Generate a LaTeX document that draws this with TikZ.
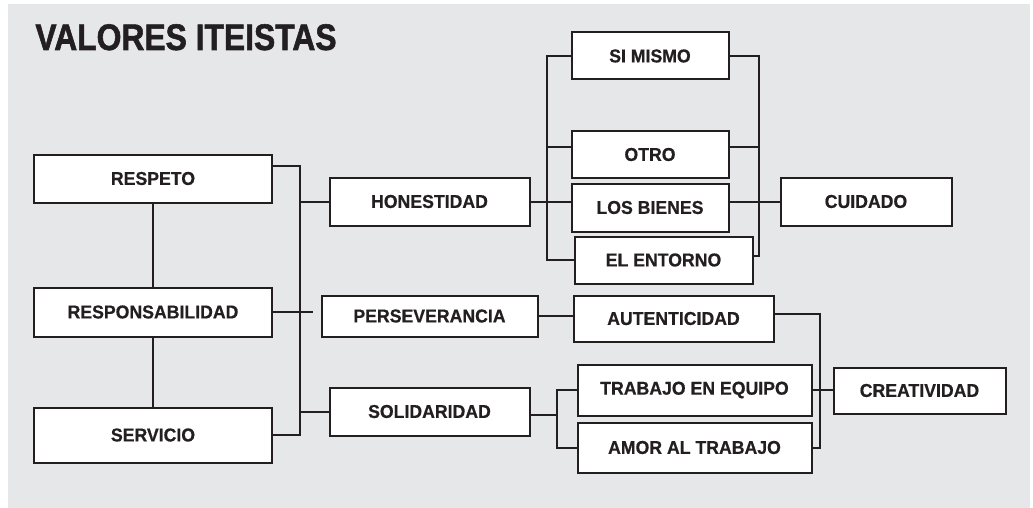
\documentclass[tikz,border=0pt]{standalone}
\usepackage{fontspec}
\setmainfont{Liberation Sans}
\newfontfamily\titlefont{Liberation Sans}[FakeStretch=0.86,FakeBold=1.5]
\newfontfamily\cajafont{Liberation Sans}[FakeStretch=0.95,FakeBold=0.6]
\usetikzlibrary{positioning}
\definecolor{fondo}{HTML}{E6E7E8}
\definecolor{tinta}{HTML}{231F20}
\tikzset{
  valor/.style={draw=tinta, fill=white, line width=1pt, text=tinta, inner sep=0pt,
    font=\cajafont\fontsize{9.3}{10}\selectfont\bfseries},
  enlace/.style={draw=tinta, line width=1pt}
}
\begin{document}
\begin{tikzpicture}[x=0.5pt,y=-0.5pt]
        \useasboundingbox (0,0) rectangle (1033,508);
        \fill[fondo] (8,4) rectangle (1030,508);
        \node[anchor=base west, inner sep=0pt, text=tinta,
          font=\titlefont\fontsize{18.5}{20}\selectfont\bfseries] (titulo) at (35,50) {VALORES ITEISTAS};
        % columna izquierda
        \node[valor, minimum width=119pt, minimum height=24pt] (respeto)  at (153,178.5) {RESPETO};
        \node[valor, minimum width=119pt, minimum height=24.5pt] (respons) at (153,312)   {RESPONSABILIDAD};
        \node[valor, minimum width=119pt, minimum height=27.5pt] (servicio) at (153,435)  {SERVICIO};
        % columna central
        \node[valor, minimum width=100pt, minimum height=24pt] (honestidad)  at (429.5,201.5) {HONESTIDAD};
        \node[valor, minimum width=108pt, minimum height=20.5pt] (persev)    at (429.5,316)   {PERSEVERANCIA};
        \node[valor, minimum width=100pt, minimum height=24pt] (solidaridad) at (429.5,411.5) {SOLIDARIDAD};
        % ramas derechas
        \node[valor, minimum width=78.5pt, minimum height=23.5pt] (simismo) at (650,56)    {SI MISMO};
        \node[valor, minimum width=78.5pt, minimum height=23pt]   (otro)    at (650,154.5) {OTRO};
        \node[valor, minimum width=78.5pt, minimum height=24pt]   (bienes)  at (650,207.5) {LOS BIENES};
        \node[valor, minimum width=89pt,   minimum height=23.5pt] (entorno) at (663.5,260) {EL ENTORNO};
        \node[valor, minimum width=85.5pt, minimum height=24pt]   (cuidado) at (866,201.5) {CUIDADO};
        \node[valor, minimum width=100pt,  minimum height=23pt]   (autentic) at (673.5,318.5) {AUTENTICIDAD};
        \node[valor, minimum width=117pt,  minimum height=25.5pt] (trabajo)  at (694.5,390)   {TRABAJO EN EQUIPO};
        \node[valor, minimum width=117pt,  minimum height=25pt]   (amor)     at (694.5,447.5) {AMOR AL TRABAJO};
        \node[valor, minimum width=86pt,   minimum height=23pt]   (creatividad) at (919.5,390.5) {CREATIVIDAD};
        % ejes de las llaves
        \coordinate (eje_a) at (300,300);
        \coordinate (eje_b) at (547,150);
        \coordinate (eje_c) at (759,150);
        \coordinate (eje_d) at (557,415);
        \coordinate (eje_e) at (820,380);
        % enlaces
        \path[enlace]
        (respeto) edge (respons)
        (respons) edge (servicio);
        \draw[enlace] ([yshift=6.25pt]respeto.east) -| (eje_a) |- (servicio.east);
        \draw[enlace] (respons.east) -- ([xshift=-4pt]persev.west |- respons.east);
        \draw[enlace] (honestidad.west) -- (honestidad.west -| eje_a);
        \draw[enlace] (solidaridad.west) -- (solidaridad.west -| eje_a);
        \draw[enlace] (simismo.west) -| (eje_b) |- (entorno.west);
        \draw[enlace] ([yshift=3.75pt]otro.west) -- ([yshift=3.75pt]otro.west -| eje_b);
        \draw[enlace] (honestidad.east) -- (honestidad.east -| bienes.west);
        \draw[enlace] (simismo.east) -| (eje_c) |- ([yshift=2pt]entorno.east);
        \draw[enlace] ([yshift=3.75pt]otro.east) -- ([yshift=3.75pt]otro.east -| eje_c);
        \draw[enlace] (cuidado.west -| bienes.east) -- (cuidado.west);
        \draw[enlace] (persev.east) -- (persev.east -| autentic.west);
        \draw[enlace] (trabajo.west) -| (eje_d) |- (amor.west);
        \draw[enlace] ([yshift=-1.75pt]solidaridad.east) -- ([yshift=-1.75pt]solidaridad.east -| eje_d);
        \draw[enlace] ([yshift=2.25pt]autentic.east) -| (eje_e) |- (amor.east);
        \draw[enlace] (trabajo.east) -- (trabajo.east -| creatividad.west);
    \end{tikzpicture}
\end{document}
